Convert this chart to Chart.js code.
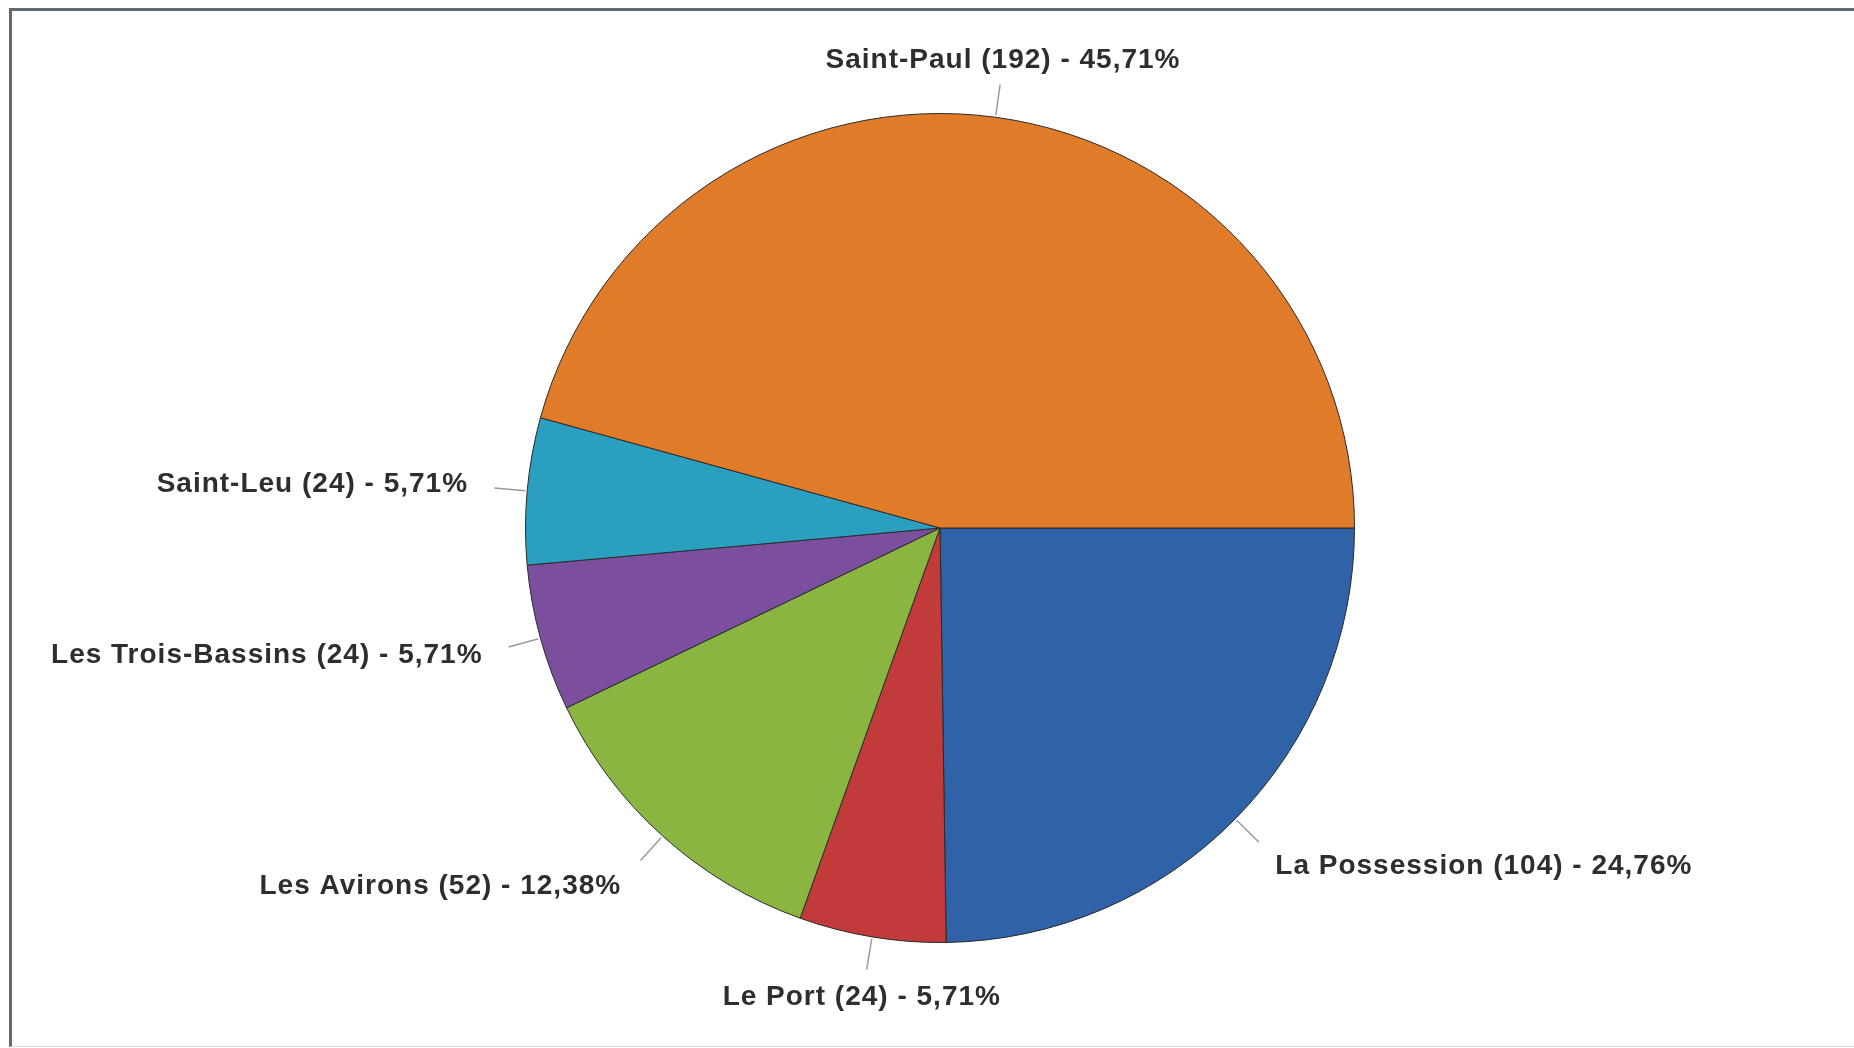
<!DOCTYPE html>
<html>
<head>
<meta charset="utf-8">
<script src="https://cdn.jsdelivr.net/npm/chart.js@4"></script>
<style>
  html, body { margin: 0; padding: 0; background: #fff; }
  body { width: 1854px; height: 1048px; position: relative; overflow: hidden; }
  #frame {
    position: absolute; left: 9px; top: 8px; right: 0; bottom: 1px;
    border-top: 3px solid #5f6a72; border-left: 3px solid #5f6a72;
    border-bottom: 1px solid #dcdcdc; box-sizing: border-box;
  }
  canvas { position: absolute; left: 0; top: 0; }
</style>
</head>
<body>
<div id="frame"></div>
<canvas id="pie" width="1854" height="1048"></canvas>
<script>
// communes, clockwise from 3 o'clock
const communes = ["La Possession", "Le Port", "Les Avirons", "Les Trois-Bassins", "Saint-Leu", "Saint-Paul"];
const effectifs = [104, 24, 52, 24, 24, 192];
const couleurs = ["#2f62a6", "#c23b3b", "#8ab541", "#7b4f9e", "#2b9fc0", "#e07b2a"];

const total = effectifs.reduce((a, b) => a + b, 0);

// Draws "Name (n) - xx,xx%" outside each slice with a short leader line
const outsideLabels = {
  id: "outsideLabels",
  afterDatasetsDraw(chart) {
    const ctx = chart.ctx;
    const meta = chart.getDatasetMeta(0);
    ctx.save();
    ctx.font = "bold 28px 'Liberation Sans', Arial, sans-serif";
    ctx.letterSpacing = "1px";
    ctx.fillStyle = "#2e2e2e";
    meta.data.forEach((arc, i) => {
      const { x, y, startAngle, endAngle, outerRadius } = arc.getProps(["x", "y", "startAngle", "endAngle", "outerRadius"], true);
      const mid = (startAngle + endAngle) / 2;
      const c = Math.cos(mid), s = Math.sin(mid);
      const r1 = outerRadius + 2, r2 = outerRadius + 33;

      ctx.strokeStyle = "#9a9a9a";
      ctx.lineWidth = 1.5;
      ctx.beginPath();
      ctx.moveTo(x + c * r1, y + s * r1);
      ctx.lineTo(x + c * r2, y + s * r2);
      ctx.stroke();

      const pct = (effectifs[i] / total * 100).toFixed(2).replace(".", ",");
      const text = communes[i] + " (" + effectifs[i] + ") - " + pct + "%";
      const tx = x + c * (r2 + 26) - 4 * Math.abs(c * s);
      const ty = y + s * (r2 + 26) + 8 * Math.abs(2 * c * s) - 3 * Math.abs(c);
      ctx.textBaseline = "middle";
      if (Math.abs(c) < 0.3) ctx.textAlign = "center";
      else ctx.textAlign = c > 0 ? "left" : "right";
      ctx.fillText(text, tx, ty);
    });
    ctx.restore();
  }
};

new Chart(document.getElementById("pie"), {
  type: "pie",
  data: {
    labels: communes,
    datasets: [{
      data: effectifs,
      backgroundColor: couleurs,
      borderColor: "#2a2a2a",
      borderWidth: 1,
      hoverOffset: 0
    }]
  },
  options: {
    responsive: false,
    animation: false,
    rotation: 90,
    layout: { padding: { top: 113, bottom: 105, left: 400, right: 374 } },
    plugins: {
      legend: { display: false },
      tooltip: { enabled: false }
    }
  },
  plugins: [outsideLabels]
});
</script>
</body>
</html>
